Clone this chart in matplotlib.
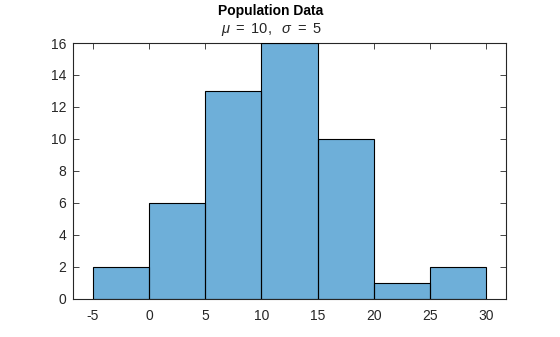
import numpy as np
import matplotlib
matplotlib.use("Agg")
import matplotlib.pyplot as plt

plt.rcParams["font.family"] = ["Liberation Sans", "DejaVu Sans"]
plt.rcParams["mathtext.fontset"] = "custom"
plt.rcParams["mathtext.it"] = "Liberation Sans:italic"
plt.rcParams["mathtext.rm"] = "Liberation Sans"
plt.rcParams["axes.unicode_minus"] = False

# histogram data
bin_edges = [-5, 0, 5, 10, 15, 20, 25, 30]
counts = [2, 6, 13, 16, 10, 1, 2]
xticks = [-5, 0, 5, 10, 15, 20, 25, 30]
yticks = [0, 2, 4, 6, 8, 10, 12, 14, 16]

dark = (0.15, 0.15, 0.15)

fig = plt.figure(figsize=(5.6, 3.37), dpi=100)
ax = fig.add_axes([0.1304, 0.1128, 0.7732, 0.7596])

widths = np.diff(bin_edges)
ax.bar(bin_edges[:-1], counts, width=widths, align="edge",
       color=(0, 0.447, 0.741), alpha=0.57, edgecolor="none", zorder=2)
ax.bar(bin_edges[:-1], counts, width=widths, align="edge",
       facecolor="none", edgecolor="black", linewidth=0.8, zorder=3)

ax.set_xlim(-6.75, 31.75)
ax.set_ylim(0, 16)
ax.set_xticks(xticks)
ax.set_yticks(yticks)
ax.tick_params(direction="in", top=True, right=True, length=4, width=0.6,
               labelsize=10, colors=dark, labelcolor=dark, pad=5)
ax.tick_params(axis="x", pad=7)
for s in ax.spines.values():
    s.set_color(dark)
    s.set_linewidth(0.8)

fig.text(271 / 560, 1 - 11 / 337, "Population Data", ha="center", va="center",
         fontsize=10, fontweight="bold", color="black")
fig.text(271 / 560, 1 - 30 / 337, r"$\mu\ =\ 10,\ \ \sigma\ =\ 5$", ha="center",
         va="center", fontsize=10.5, color=dark)

fig.savefig("out.png", dpi=100)
